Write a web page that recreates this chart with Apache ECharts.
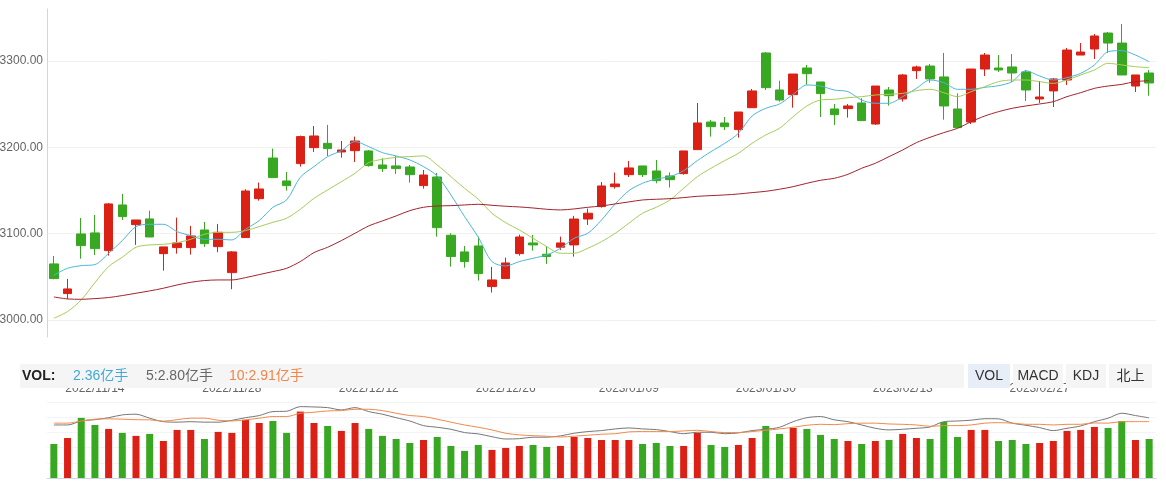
<!DOCTYPE html>
<html><head><meta charset="utf-8">
<script src="https://cdn.jsdelivr.net/npm/echarts@6/dist/echarts.min.js"></script>
<style>html,body{margin:0;padding:0;background:#fff}#c{width:1166px;height:481px}</style>
</head><body><div id="c"></div>
<script>
const dates = ['2022/11/09','2022/11/10','2022/11/11','2022/11/14','2022/11/15','2022/11/16','2022/11/17','2022/11/18','2022/11/21','2022/11/22','2022/11/23','2022/11/24','2022/11/25','2022/11/28','2022/11/29','2022/11/30','2022/12/01','2022/12/02','2022/12/05','2022/12/06','2022/12/07','2022/12/08','2022/12/09','2022/12/12','2022/12/13','2022/12/14','2022/12/15','2022/12/16','2022/12/19','2022/12/20','2022/12/21','2022/12/22','2022/12/23','2022/12/26','2022/12/27','2022/12/28','2022/12/29','2022/12/30','2023/01/03','2023/01/04','2023/01/05','2023/01/06','2023/01/09','2023/01/10','2023/01/11','2023/01/12','2023/01/13','2023/01/16','2023/01/17','2023/01/18','2023/01/19','2023/01/20','2023/01/30','2023/01/31','2023/02/01','2023/02/02','2023/02/03','2023/02/06','2023/02/07','2023/02/08','2023/02/09','2023/02/10','2023/02/13','2023/02/14','2023/02/15','2023/02/16','2023/02/17','2023/02/20','2023/02/21','2023/02/22','2023/02/23','2023/02/24','2023/02/27','2023/02/28','2023/03/01','2023/03/02','2023/03/03','2023/03/06','2023/03/07','2023/03/08','2023/03/09'];
const tickLabels = ['2022/11/14','2022/11/28','2022/12/12','2022/12/26','2023/01/09','2023/01/30','2023/02/13','2023/02/27'];

const open  = [3064.9,3030.5,3099.6,3100.8,3080.3,3133.2,3110.4,3117.0,3076.8,3083.8,3083.8,3104.2,3084.9,3054.8,3095.4,3140.5,3187.6,3161.0,3181.1,3199.6,3204.6,3194.6,3196.1,3195.8,3179.5,3178.4,3177.2,3155.6,3165.6,3098.1,3078.8,3085.7,3038.6,3047.9,3076.8,3089.2,3076.1,3084.2,3086.9,3116.9,3131.3,3154.4,3168.3,3178.4,3172.6,3166.8,3169.5,3197.3,3229.3,3228.2,3220.5,3245.9,3309.3,3266.4,3261.0,3291.9,3275.7,3244.4,3244.8,3251.4,3227.0,3266.4,3256.0,3288.8,3294.2,3281.5,3244.4,3229.3,3290.7,3291.9,3293.1,3287.3,3256.0,3265.3,3278.0,3306.9,3313.9,3332.4,3320.8,3271.0,3286.1];
const close = [3047.9,3035.9,3086.1,3082.6,3134.4,3119.7,3115.8,3096.1,3084.6,3089.2,3097.3,3088.4,3101.5,3078.8,3149.4,3151.7,3164.9,3155.6,3212.4,3213.1,3198.5,3196.9,3207.3,3178.8,3175.3,3175.3,3168.3,3167.9,3106.9,3073.4,3067.6,3053.7,3046.3,3066.0,3096.1,3086.9,3073.4,3089.2,3116.9,3123.6,3155.2,3157.5,3176.1,3168.3,3161.4,3162.5,3195.8,3228.2,3223.9,3223.9,3240.9,3265.3,3269.1,3254.8,3284.9,3285.3,3262.2,3237.8,3247.9,3230.9,3271.0,3259.8,3283.8,3293.1,3279.2,3247.9,3222.8,3290.7,3306.9,3289.6,3286.1,3266.4,3258.3,3279.2,3312.7,3310.4,3329.0,3320.8,3283.8,3283.8,3274.5];
const low   = [3047.1,3024.3,3071.0,3075.3,3074.5,3115.8,3086.9,3096.0,3057.1,3076.8,3075.7,3084.6,3078.4,3035.5,3095.4,3138.2,3164.9,3149.8,3177.6,3194.6,3189.9,3188.0,3183.0,3177.6,3171.4,3169.1,3159.1,3152.1,3096.5,3061.8,3060.6,3045.6,3031.7,3047.9,3074.5,3080.3,3064.9,3081.1,3073.4,3110.0,3130.1,3152.1,3165.6,3165.6,3158.3,3153.3,3168.3,3197.3,3212.4,3220.1,3211.2,3245.9,3266.4,3252.9,3245.9,3272.6,3235.1,3225.9,3234.4,3230.9,3225.9,3248.3,3252.9,3279.2,3274.9,3232.0,3222.8,3227.0,3282.6,3287.3,3275.7,3253.7,3251.4,3246.7,3272.2,3306.9,3302.3,3309.3,3283.8,3264.1,3259.8];
const high  = [3074.1,3047.5,3118.1,3121.6,3135.5,3146.0,3115.8,3126.6,3084.6,3118.5,3108.9,3113.5,3111.2,3079.9,3151.4,3159.1,3198.5,3171.4,3213.5,3224.7,3225.9,3207.3,3212.4,3196.9,3187.3,3190.0,3179.5,3173.7,3170.3,3100.4,3085.7,3096.5,3061.4,3072.2,3098.8,3098.5,3085.7,3096.5,3120.5,3129.0,3159.8,3170.7,3184.2,3178.4,3185.3,3171.0,3195.8,3251.4,3231.7,3235.1,3240.9,3267.6,3310.4,3277.2,3284.9,3295.4,3275.7,3250.2,3250.2,3256.8,3271.0,3269.9,3284.9,3294.6,3296.5,3309.3,3262.5,3290.7,3309.3,3306.9,3308.1,3289.6,3276.8,3280.3,3315.1,3320.8,3331.3,3333.6,3342.9,3283.8,3289.6];

const ma5  = [3051.7,3059.8,3062.9,3064.1,3077.2,3091.9,3108.1,3110.8,3110.8,3102.3,3097.7,3093.4,3093.4,3092.7,3105.0,3115.1,3130.5,3139.0,3165.3,3177.6,3189.2,3196.1,3206.6,3200.8,3193.8,3190.0,3185.3,3177.6,3166.8,3144.8,3119.7,3095.8,3067.6,3062.5,3067.6,3071.4,3075.3,3083.0,3094.6,3100.4,3115.8,3134.4,3149.8,3158.3,3163.3,3166.0,3172.9,3184.6,3195.0,3204.6,3216.2,3236.3,3245.2,3250.2,3261.4,3272.2,3271.0,3266.4,3264.5,3254.8,3251.0,3251.0,3258.7,3268.3,3278.0,3274.9,3267.2,3267.2,3269.5,3271.4,3276.1,3288.8,3282.6,3278.0,3280.7,3285.7,3295.4,3310.8,3312.0,3306.9,3299.2];
const ma10 = [3001.9,3009.7,3023.2,3043.2,3061.8,3072.6,3084.2,3086.9,3087.6,3089.6,3093.4,3099.2,3101.5,3101.5,3103.5,3108.1,3113.1,3117.8,3128.2,3140.9,3150.6,3160.2,3169.9,3182.2,3186.1,3188.4,3189.2,3190.0,3179.5,3166.0,3152.5,3139.8,3123.6,3112.7,3104.2,3094.6,3084.9,3077.2,3077.2,3083.0,3090.7,3100.4,3112.0,3123.6,3130.5,3139.0,3152.5,3166.0,3175.7,3184.6,3193.1,3204.6,3214.3,3222.0,3235.5,3247.9,3254.8,3255.6,3257.5,3258.7,3260.6,3261.4,3262.5,3265.6,3267.2,3263.3,3258.7,3264.5,3270.3,3276.1,3278.0,3278.0,3276.1,3274.1,3278.0,3283.8,3289.6,3297.3,3295.4,3293.4,3292.3];
const ma30 = [3026.6,3024.3,3023.9,3024.7,3025.9,3028.2,3030.9,3033.6,3036.7,3040.5,3043.6,3045.6,3046.3,3046.3,3049.0,3052.5,3056.0,3059.8,3067.6,3078.0,3084.2,3091.9,3100.4,3108.9,3114.7,3120.5,3126.6,3130.5,3132.0,3132.4,3133.2,3134.0,3132.8,3131.7,3130.9,3129.7,3128.2,3127.4,3128.6,3130.5,3132.0,3134.4,3136.7,3139.0,3139.8,3140.5,3141.7,3143.2,3144.0,3144.8,3145.9,3147.5,3149.0,3151.4,3154.4,3158.3,3161.8,3164.1,3168.7,3175.7,3181.5,3189.2,3196.9,3205.4,3211.6,3217.0,3222.0,3229.7,3236.3,3241.3,3245.2,3247.9,3250.2,3252.9,3258.7,3263.3,3268.3,3271.0,3272.9,3276.1,3277.2];

const volume = [2.06,2.42,3.64,3.21,2.97,2.73,2.55,2.67,2.24,2.91,2.91,2.36,2.79,2.73,3.52,3.33,3.45,2.73,4.02,3.33,3.15,2.85,3.33,2.97,2.55,2.36,2.12,2.30,2.48,1.94,1.64,2.00,1.70,1.82,1.94,2.00,1.88,1.94,2.48,2.42,2.30,2.30,2.30,2.06,2.12,1.94,1.94,2.73,2.00,1.88,2.00,2.42,3.15,2.67,3.03,2.97,2.61,2.36,2.24,2.06,2.24,2.30,2.67,2.42,2.36,3.39,2.48,2.91,2.91,2.24,2.30,2.06,2.12,2.24,2.85,2.91,3.09,3.03,3.45,2.30,2.36];
const volMa5 = [3.21,3.21,3.45,3.53,3.65,3.82,3.86,3.62,3.41,3.38,3.41,3.38,3.38,3.49,3.65,3.78,4.02,4.04,4.32,4.30,4.26,4.12,4.26,4.02,3.86,3.65,3.45,3.17,3.07,2.95,2.75,2.67,2.50,2.36,2.38,2.47,2.47,2.55,2.71,2.81,2.87,2.97,3.03,2.97,2.93,2.81,2.68,2.77,2.77,2.68,2.73,2.87,2.95,3.07,3.41,3.65,3.72,3.52,3.41,3.21,3.01,2.91,2.95,3.01,3.09,3.41,3.45,3.50,3.59,3.58,3.32,3.19,3.05,2.87,3.01,3.15,3.41,3.62,3.92,3.78,3.64];
const volMa10 = [3.32,3.32,3.45,3.56,3.58,3.56,3.53,3.52,3.44,3.53,3.62,3.62,3.50,3.45,3.52,3.62,3.72,3.72,3.92,3.98,4.06,4.08,4.16,4.16,4.08,3.92,3.78,3.72,3.56,3.38,3.21,3.07,2.91,2.71,2.61,2.56,2.53,2.48,2.53,2.59,2.65,2.68,2.79,2.81,2.81,2.81,2.85,2.89,2.81,2.75,2.75,2.81,2.89,2.97,3.07,3.19,3.25,3.23,3.29,3.32,3.32,3.27,3.25,3.21,3.13,3.17,3.17,3.21,3.32,3.35,3.32,3.25,3.25,3.21,3.25,3.25,3.33,3.32,3.41,3.41,3.41];

const legendTexts = [
  {text: 'VOL:', color: '#222', bold: true},
  {text: '2.36亿手', color: '#3fa9d8'},
  {text: '5:2.80亿手', color: '#666'},
  {text: '10:2.91亿手', color: '#f0864a'}
];
const tabs = ['VOL', 'MACD', 'KDJ', '北上'];

const UP = '#db2016', DOWN = '#38a822';
const FONT = 'Arial, "Liberation Sans", "Noto Sans CJK SC", sans-serif';

const kData = open.map((o, i) => [o, close[i], low[i], high[i]]);
const volData = volume.map((v, i) => ({value: v, itemStyle: {color: close[i] >= open[i] ? UP : DOWN}}));

const legendX = [22, 73, 146, 229];
const tabX = [968, 1013, 1066, 1109];
const tabW = [42, 50, 40, 43];

const graphics = [
  {type: 'rect', z: 100, shape: {x: 20, y: 364, width: 944, height: 24}, style: {fill: '#f5f5f5'}}
];
legendTexts.forEach((t, i) => graphics.push({type: 'text', z: 101, x: legendX[i], y: 376,
  style: {text: t.text, fill: t.color, font: (t.bold ? 'bold ' : '') + '14px ' + FONT, textVerticalAlign: 'middle'}}));
tabs.forEach((t, i) => {
  graphics.push({type: 'rect', z: 100, shape: {x: tabX[i], y: 364, width: tabW[i], height: 24}, style: {fill: i === 0 ? '#e8eef8' : '#f5f5f5'}});
  graphics.push({type: 'text', z: 101, x: tabX[i] + tabW[i] / 2, y: 376,
    style: {text: t, fill: '#333', font: '14px ' + FONT, textAlign: 'center', textVerticalAlign: 'middle'}});
});

const chart = echarts.init(document.getElementById('c'), null, {renderer: 'canvas'});
const lineS = (name, data, color, xi, yi) => ({name, type: 'line', data, xAxisIndex: xi, yAxisIndex: yi,
  showSymbol: false, smooth: 0.3, lineStyle: {width: 1, color}, itemStyle: {color}, silent: true, z: 3});
chart.setOption({
  animation: false,
  backgroundColor: '#fff',
  grid: [
    {left: 47, right: 10, top: 9, height: 328, containLabel: false, outerBoundsMode: 'none'},
    {left: 47, right: 10, top: 402, height: 76, containLabel: false, outerBoundsMode: 'none'}
  ],
  xAxis: [
    {type: 'category', gridIndex: 0, data: dates, boundaryGap: true,
     axisLine: {show: false}, axisTick: {show: false}, splitLine: {show: false},
     axisLabel: {interval: (i, v) => tickLabels.indexOf(v) >= 0, margin: 46, color: '#666', fontSize: 12, fontFamily: FONT}},
    {type: 'category', gridIndex: 1, data: dates, boundaryGap: true,
     axisLine: {show: true, lineStyle: {color: '#cdd5e6'}}, axisTick: {show: false}, axisLabel: {show: false}, splitLine: {show: false}}
  ],
  yAxis: [
    {type: 'value', gridIndex: 0, min: 2980.2, max: 3360.25, splitNumber: 5, scale: true,
     axisLine: {show: true, lineStyle: {color: '#cdd5e6'}}, axisTick: {show: false},
     axisLabel: {margin: 4, color: '#666', fontSize: 12, fontFamily: FONT,
       formatter: v => Math.abs(v - Math.round(v / 100) * 100) < 1e-6 ? v.toFixed(2) : ''},
     splitLine: {show: true, lineStyle: {color: ['rgba(0,0,0,0)', '#f0f0f0', '#f0f0f0', '#f0f0f0', '#f0f0f0', 'rgba(0,0,0,0)']}}},
    {type: 'value', gridIndex: 1, min: 0, max: 4.6, interval: 0.92,
     axisLine: {show: false}, axisTick: {show: false}, axisLabel: {show: false},
     splitLine: {show: true, lineStyle: {color: '#f2f4f7'}}}
  ],
  series: [
    {name: 'K', type: 'candlestick', data: kData, xAxisIndex: 0, yAxisIndex: 0, barWidth: 9,
     itemStyle: {color: UP, color0: DOWN, borderColor: UP, borderColor0: DOWN, borderWidth: 1}},
    lineS('MA5', ma5, '#4cb7d8', 0, 0),
    lineS('MA10', ma10, '#a5cc58', 0, 0),
    lineS('MA30', ma30, '#a3232d', 0, 0),
    {name: 'VOL', type: 'bar', data: volData, xAxisIndex: 1, yAxisIndex: 1, barWidth: 7},
    lineS('VMA5', volMa5, '#777', 1, 1),
    lineS('VMA10', volMa10, '#f08a4b', 1, 1)
  ],
  graphic: graphics
});
</script></body></html>
